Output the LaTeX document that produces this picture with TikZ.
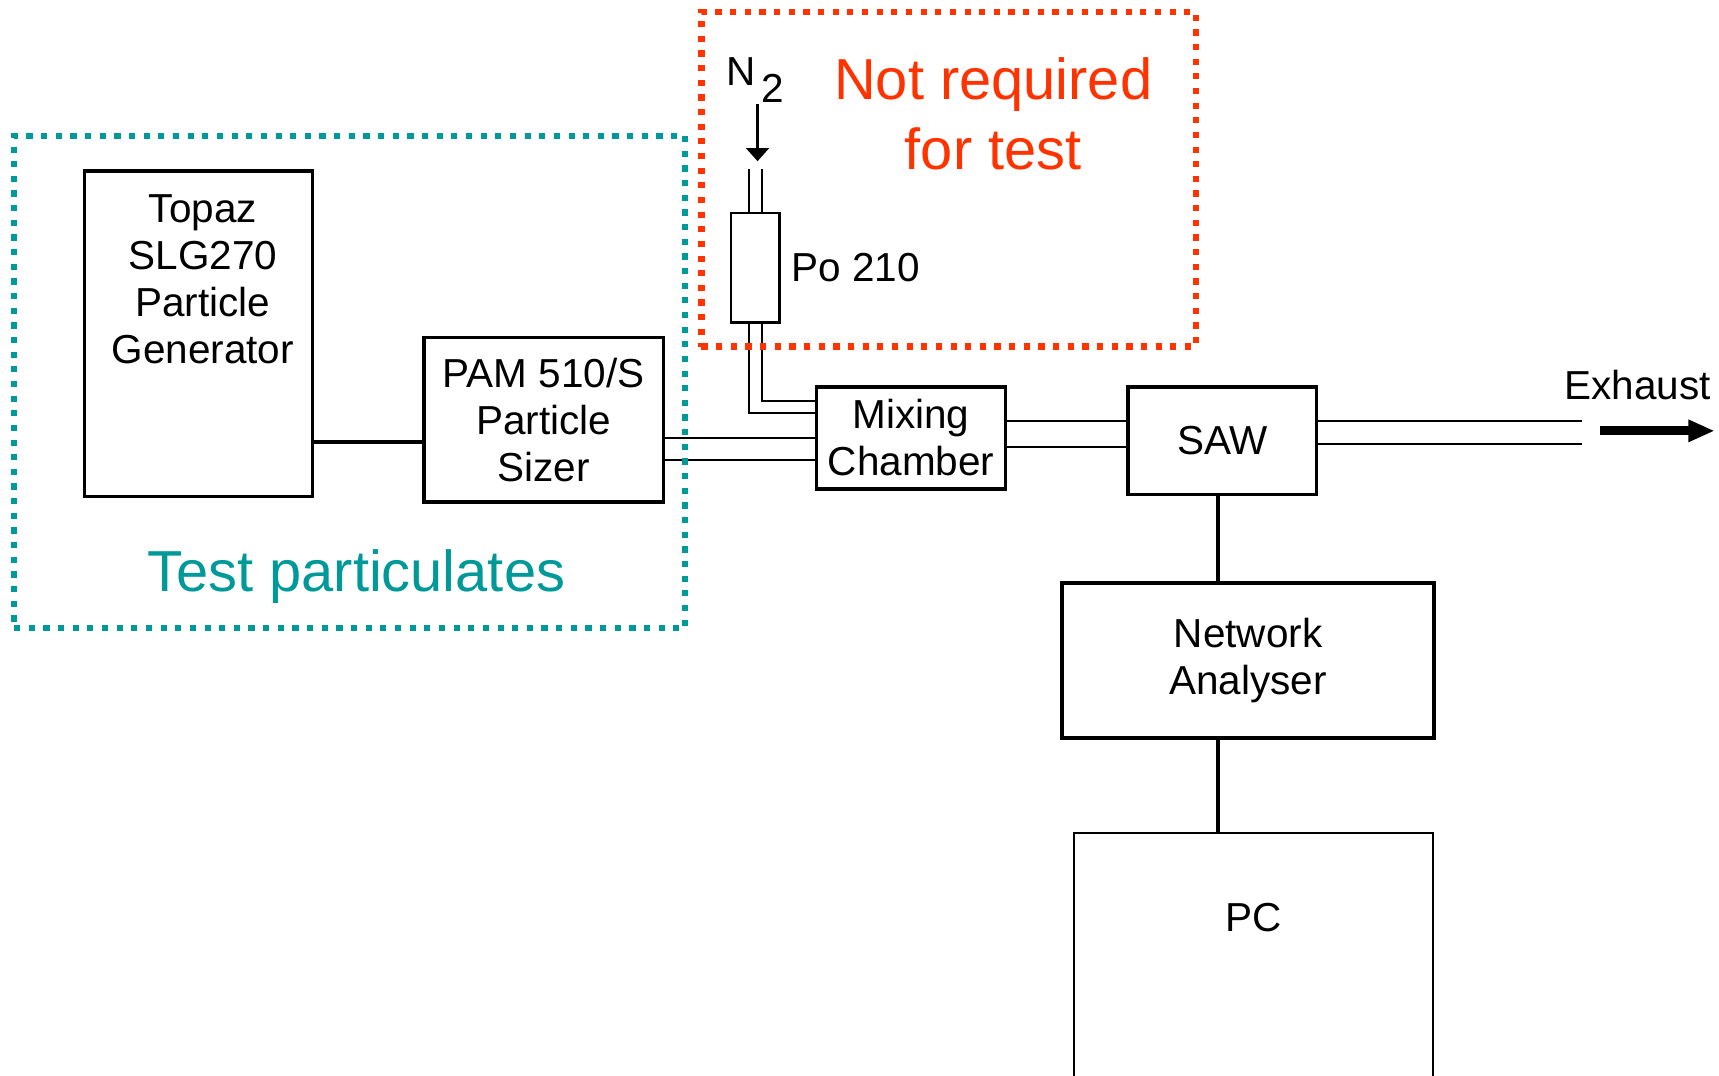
\documentclass[tikz,border=0pt]{standalone}
\usepackage{fontspec}
\setmainfont{Liberation Sans}
\usetikzlibrary{positioning,arrows.meta}
\definecolor{testteal}{HTML}{009999}
\definecolor{optred}{HTML}{FF3300}
\tikzset{
  unittext/.style={align=center,inner sep=0pt,font=\fontsize{10.5}{12.2}\selectfont},
  unitbox/.style={unittext,draw,line width=0.9pt},
  thinbox/.style={unitbox,line width=0.6pt},
  pipe/.style={line width=0.6pt},
  wire/.style={line width=1.2pt},
  dotframe/.style={line width=1.6pt,dash pattern=on 1.6pt off 2.2pt,inner sep=0pt},
  bigtext/.style={align=center,inner sep=0pt,font=\fontsize{15}{18}\selectfont},
}

\begin{document}
\begin{tikzpicture}[x=0.01cm,y=-0.01cm]
\useasboundingbox (0,0) rectangle (1568,981);
\clip (0,0) rectangle (1568,981);

% units
\node[unitbox,minimum width=2.08cm,minimum height=2.97cm,
  label={[unittext,xshift=0.04cm,yshift=0.5cm]center:Topaz\\SLG270\\Particle\\Generator}] (topaz) at (181,304.5) {};
\node[unitbox,minimum width=2.18cm,minimum height=1.5cm] (pam) at (496,383) {PAM 510/S\\Particle\\Sizer};
\node[unitbox,minimum width=1.72cm,minimum height=0.93cm] (mix) at (831,399.5) {Mixing\\Chamber};
\node[unitbox,minimum width=1.72cm,minimum height=0.98cm] (saw) at (1115,402) {SAW};
\node[unitbox,minimum width=3.39cm,minimum height=1.41cm] (na) at (1138.5,602.5) {Network\\Analyser};
\node[thinbox,minimum width=3.27cm,minimum height=2.4cm,
  label={[unittext,yshift=0.43cm]center:PC}] (pc) at (1143.5,880) {};
\node[thinbox,minimum width=0.44cm,minimum height=1cm] (po) at (689,244) {};
\node[unittext,right=0.09cm of po] (polbl) {Po 210};
\node[unittext] (n2) at (689,73) {N\kern0.05cm\raisebox{-0.16cm}{2}};
\node[unittext] (exhlbl) at (1494,351) {Exhaust};

% gas lines
\coordinate (n2in) at (691,147);
\draw[pipe,-{Triangle[width=0.21cm,length=0.12cm]}] (n2.south -| n2in) -- (n2in);
\foreach \dx in {-0.06,0.06}
  \draw[pipe] ([xshift=\dx cm]po.north) -- ++(0,-39);
\draw[pipe] ([xshift=-0.06cm]po.south) |- ([yshift=0.225cm]mix.west);
\draw[pipe] ([xshift=0.06cm]po.south) |- ([yshift=0.335cm]mix.west);
\foreach \dy/\nm in {0/a,-0.2/b} {
  \coordinate (pm\nm) at ([yshift=\dy cm]mix.west);
  \draw[pipe] (pm\nm) -- (pm\nm -| pam.east);
}
\foreach \dy/\nm in {0.155/a,-0.085/b} {
  \coordinate (ms\nm) at ([yshift=\dy cm]mix.east);
  \draw[pipe] (ms\nm) -- (ms\nm -| saw.west);
}
\coordinate (exhend) at (1443,395);
\foreach \dy/\nm in {0.18/a,-0.03/b} {
  \coordinate (se\nm) at ([yshift=\dy cm]saw.east);
  \draw[pipe] (se\nm) -- (se\nm -| exhend);
}
\coordinate (exhtail) at (1459,393);
\coordinate (exhtip) at (1564,393);
\draw[line width=2.4pt,-{Triangle[width=0.19cm,length=0.24cm]}] (exhtail) -- (exhtip);

% signal lines
\coordinate (gen) at ([yshift=-0.2cm]pam.west);
\draw[wire] (gen) -- (gen -| topaz.east);
\coordinate (sig) at ([xshift=-0.04cm]saw.south);
\draw[wire] (sig) -- (sig |- na.north);
\draw[wire] (sig |- na.south) -- (sig |- pc.north);

% groups
\node[dotframe,draw=testteal,minimum width=6.12cm,minimum height=4.49cm] (testgrp) at (319,348.5) {};
\node[dotframe,draw=optred,minimum width=4.51cm,minimum height=3.05cm] (optgrp) at (865.5,163.5) {};
\node[bigtext,text=testteal] (testlbl) at (325,526) {Test particulates};
\node[bigtext,text=optred] (optlbl) at (906,104) {Not required\\for test};
\end{tikzpicture}
\end{document}
